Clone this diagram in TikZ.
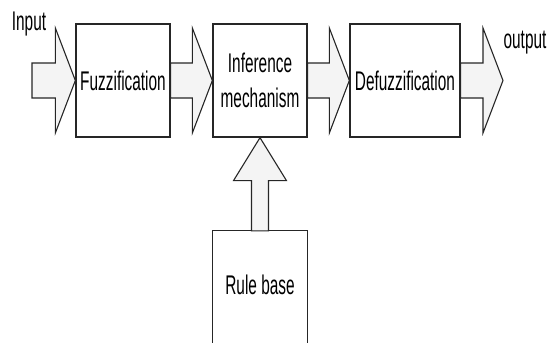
\documentclass[tikz,border=0pt]{standalone}
\usepackage{fontspec}
\newfontfamily\narrowsf[FakeStretch=0.57]{Liberation Sans}
\usetikzlibrary{calc, positioning}

\begin{document}
\begin{tikzpicture}[
    x=1pt, y=-1pt,
    block/.style={draw=black!85, line width=1.3pt, fill=white, minimum width=94pt, minimum height=113pt, inner sep=0pt, align=center, font=\narrowsf\fontsize{27}{35}\selectfont},
    fat/.style={draw=black!85, line width=1.1pt, fill=gray!9, line join=miter},
    lbl/.style={font=\narrowsf\fontsize{27}{35}\selectfont, inner sep=0pt}
]
    \clip (0,0) rectangle (550,343);

    % blocks
    \node[block] (fuzz) at (123,80.5) {Fuzzification};
    \node[block] (infer) at (260,80.5) {Inference\\mechanism};
    \node[block, minimum width=110pt] (defuzz) at (405,80.5) {Defuzzification};

    % rule base (frame runs past the bottom edge)
    \node[lbl, minimum width=94pt, minimum height=108pt] (rule) at (260,285) {Rule base};
    \draw[draw=black!85, line width=1.3pt] ($(rule.south west)+(0,30)$) -- (rule.north west) -- (rule.north east) -- ($(rule.south east)+(0,30)$);

    % in / out
    \coordinate (instart) at (32,80.5);
    \coordinate (outtip) at (503,80.5);
    \node[lbl] (inlbl) at (29,24) {Input};
    \node[lbl] (outlbl) at (525,43) {output};

    % fat arrows
    \foreach \a/\b in {instart/fuzz.west, fuzz.east/infer.west, infer.east/defuzz.west, defuzz.east/outtip}
        \draw[fat] ($(\a)+(0,-17.5)$) -- ($(\b)+(-20,-17.5)$) -- ($(\b)+(-20,-52.5)$) -- (\b)
            -- ($(\b)+(-20,52.5)$) -- ($(\b)+(-20,17.5)$) -- ($(\a)+(0,17.5)$) -- cycle;

    % rule base -> inference
    \draw[fat] ($(rule.north)+(-8.5,0)$) -- ($(infer.south)+(-8.5,43)$) -- ($(infer.south)+(-26.5,43)$) -- (infer.south)
        -- ($(infer.south)+(26.5,43)$) -- ($(infer.south)+(8.5,43)$) -- ($(rule.north)+(8.5,0)$) -- cycle;
\end{tikzpicture}
\end{document}
